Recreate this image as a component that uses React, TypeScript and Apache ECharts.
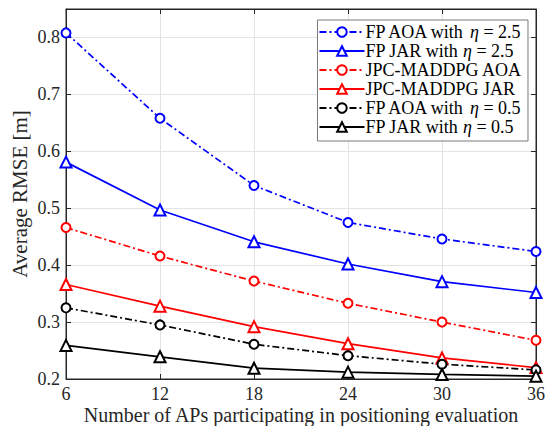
import React, { useEffect, useRef } from "react";
import * as echarts from "echarts";

const apCounts = [6, 12, 18, 24, 30, 36];
const fpAoa25 = [0.808, 0.658, 0.54, 0.475, 0.446, 0.424];
const fpJar25 = [0.581, 0.497, 0.441, 0.402, 0.371, 0.352];
const jpcAoa = [0.466, 0.416, 0.372, 0.333, 0.3, 0.268];
const jpcJar = [0.366, 0.328, 0.292, 0.262, 0.237, 0.22];
const fpAoa05 = [0.325, 0.295, 0.261, 0.241, 0.226, 0.216];
const fpJar05 = [0.259, 0.239, 0.219, 0.212, 0.208, 0.205];

const seriesNames = [
  "FP AOA with {i|η} = 2.5",
  "FP JAR with {i|η} = 2.5",
  "JPC-MADDPG AOA",
  "JPC-MADDPG JAR",
  "FP AOA with {i|η} = 0.5",
  "FP JAR with {i|η} = 0.5",
];

const FONT = "Liberation Serif";

export default function App() {
  const ref = useRef<HTMLDivElement>(null);
  useEffect(() => {
    document.body.style.margin = "0";
    const chart = echarts.init(ref.current!, null, { renderer: "svg" });
    const dashDot = [7, 3, 2, 3];
    const mk = (
      name: string,
      data: number[],
      color: string,
      dashed: boolean,
      symbol: string
    ) => ({
      name,
      type: "line",
      data: apCounts.map((x, i) => [x, data[i]]),
      symbol,
      symbolSize: symbol === "emptyCircle" ? 9 : 11,
      showSymbol: true,
      lineStyle: { color, width: 1.7, type: dashed ? dashDot : "solid" },
      itemStyle: { color, borderColor: color, borderWidth: 1.7 },
      z: 3,
    });
    const axisLabelStyle = { fontFamily: FONT, fontSize: 18, color: "#262626" };
    chart.setOption({
      animation: false,
      backgroundColor: "#ffffff",
      grid: {
        left: 66,
        right: 11,
        top: 9,
        bottom: 47,
        show: true,
        borderColor: "#262626",
        borderWidth: 1,
        containLabel: false,
        outerBoundsMode: "none",
      },
      xAxis: [
        {
          type: "value",
          min: 6,
          max: 36,
          interval: 6,
          name: "Number of APs participating in positioning evaluation",
          nameLocation: "middle",
          nameGap: 26,
          nameMoveOverlap: false,
          nameTextStyle: { fontFamily: FONT, fontSize: 20, color: "#262626", verticalAlign: "top" },
          axisLine: { show: true, lineStyle: { color: "#262626" } },
          axisTick: { show: true, inside: true, length: 5, lineStyle: { color: "#262626" } },
          axisLabel: { ...axisLabelStyle, margin: 6 },
          splitLine: { show: true, lineStyle: { color: "#e3e3e3", width: 1 } },
        },
        {
          type: "value",
          position: "top",
          min: 6,
          max: 36,
          interval: 6,
          axisLine: { show: true, lineStyle: { color: "#262626" } },
          axisTick: { show: true, inside: true, length: 5, lineStyle: { color: "#262626" } },
          axisLabel: { show: false },
          splitLine: { show: false },
        },
      ],
      yAxis: [
        {
          type: "value",
          min: 0.2,
          max: 0.85,
          interval: 0.1,
          name: "Average RMSE [m]",
          nameLocation: "middle",
          nameGap: 36,
          nameMoveOverlap: false,
          nameTextStyle: { fontFamily: FONT, fontSize: 21, color: "#262626" },
          axisLine: { show: true, lineStyle: { color: "#262626" } },
          axisTick: { show: true, inside: true, length: 5, lineStyle: { color: "#262626" } },
          axisLabel: {
            ...axisLabelStyle,
            margin: 6,
            showMaxLabel: false,
            formatter: (v: number) => (v > 0.81 ? "" : v.toFixed(1)),
          },
          splitLine: { show: true, lineStyle: { color: "#e3e3e3", width: 1 } },
        },
        {
          type: "value",
          position: "right",
          min: 0.2,
          max: 0.85,
          interval: 0.1,
          axisLine: { show: true, lineStyle: { color: "#262626" } },
          axisTick: { show: true, inside: true, length: 5, lineStyle: { color: "#262626" } },
          axisLabel: { show: false },
          splitLine: { show: false },
        },
      ],
      legend: {
        orient: "vertical",
        right: 19,
        top: 20,
        padding: [3, 6, 5, 1],
        itemGap: 1,
        itemWidth: 45,
        itemHeight: 12,
        backgroundColor: "#ffffff",
        borderColor: "#7a7a7a",
        borderWidth: 1,
        borderRadius: 0,
        data: seriesNames,
        textStyle: {
          fontFamily: FONT,
          fontSize: 18,
          lineHeight: 18,
          color: "#000",
          padding: [0, 0, 0, -4],
          rich: {
            i: { fontFamily: FONT, fontStyle: "italic", fontSize: 18, lineHeight: 18, color: "#000" },
          },
        },
      },
      series: [
        mk(seriesNames[0], fpAoa25, "#0000ff", true, "emptyCircle"),
        mk(seriesNames[1], fpJar25, "#0000ff", false, "emptyTriangle"),
        mk(seriesNames[2], jpcAoa, "#ff0000", true, "emptyCircle"),
        mk(seriesNames[3], jpcJar, "#ff0000", false, "emptyTriangle"),
        mk(seriesNames[4], fpAoa05, "#000000", true, "emptyCircle"),
        mk(seriesNames[5], fpJar05, "#000000", false, "emptyTriangle"),
      ],
    });
    return () => chart.dispose();
  }, []);
  return <div ref={ref} style={{ width: 547, height: 426 }} />;
}
